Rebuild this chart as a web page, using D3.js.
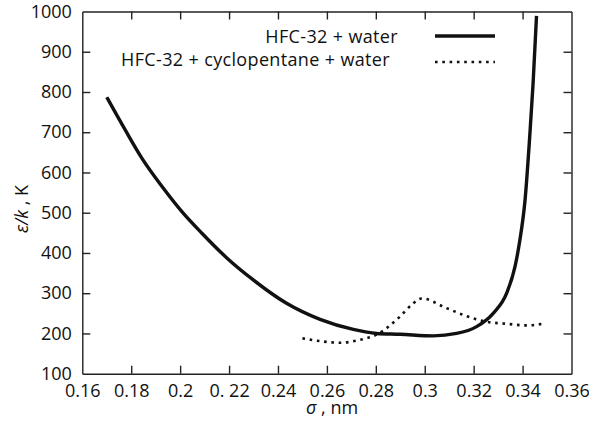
<!DOCTYPE html>
<html>
<head>
<meta charset="utf-8">
<script src="https://cdn.jsdelivr.net/npm/d3@7"></script>
<style>
  html, body { margin: 0; padding: 0; background: #fff; }
  svg { display: block; font-family: "Open Sans", sans-serif; }
</style>
</head>
<body>
<svg id="chart" width="589" height="429"></svg>
<script>
// ---- data ----
const xTicks = [0.16, 0.18, 0.20, 0.22, 0.24, 0.26, 0.28, 0.30, 0.32, 0.34, 0.36];
const xTickLabels = ["0.16", "0.18", "0.2", "0. 22", "0.24", "0.26", "0.28", "0.3", "0.32", "0.34", "0.36"];
const yTicks = [100, 200, 300, 400, 500, 600, 700, 800, 900, 1000];

const seriesNames = ["HFC-32 + water", "HFC-32 + cyclopentane + water"];

const sigmaWater = [0.170, 0.1776, 0.1844, 0.1926, 0.2008, 0.2089, 0.2192, 0.2299, 0.2435, 0.2572, 0.2708, 0.2803, 0.2899, 0.3035, 0.3130, 0.3212, 0.3280, 0.3335, 0.3369, 0.3389, 0.3410, 0.3430, 0.3443, 0.3457];
const epsWater   = [787, 705, 635, 565, 502, 449, 387, 333, 275, 235, 210, 200, 198, 194, 200, 217, 250, 300, 366, 432, 531, 697, 822, 989];

const sigmaCyclo = [0.250, 0.2572, 0.2653, 0.2735, 0.2803, 0.2899, 0.2953, 0.2987, 0.3089, 0.3171, 0.3253, 0.3335, 0.3416, 0.3491];
const epsCyclo   = [188, 181, 177, 184, 197, 242, 275, 287, 263, 243, 229, 224, 220, 225];

// ---- layout ----
const svg = d3.select("#chart");
const mLeft = 82.3, mRight = 571.5, mTop = 11.5, mBottom = 373.7;

const x = d3.scaleLinear().domain([0.16, 0.36]).range([mLeft, mRight]);
const y = d3.scaleLinear().domain([100, 1000]).range([mBottom, mTop]);

const axisColor = "#222";
const fontSize = 18;
const letterSp = "0.35px";

// frame axes with inward ticks
const gB = svg.append("g").attr("transform", `translate(0,${mBottom})`)
  .call(d3.axisBottom(x).tickValues(xTicks).tickSizeInner(-8).tickSizeOuter(0)
    .tickPadding(10.5).tickFormat((d, i) => xTickLabels[i]));
const gT = svg.append("g").attr("transform", `translate(0,${mTop})`)
  .call(d3.axisTop(x).tickValues(xTicks).tickSizeInner(-8).tickSizeOuter(0).tickFormat(""));
const gL = svg.append("g").attr("transform", `translate(${mLeft},0)`)
  .call(d3.axisLeft(y).tickValues(yTicks).tickSizeInner(-8).tickSizeOuter(0)
    .tickPadding(10.5).tickFormat(d3.format("d")));
const gR = svg.append("g").attr("transform", `translate(${mRight},0)`)
  .call(d3.axisRight(y).tickValues(yTicks).tickSizeInner(-8).tickSizeOuter(0).tickFormat(""));

[gB, gT, gL, gR].forEach(g => {
  g.select(".domain").attr("stroke", axisColor).attr("stroke-width", 1.4);
  g.selectAll(".tick line").attr("stroke", axisColor).attr("stroke-width", 1.4);
  g.selectAll(".tick text").attr("fill", "#111").style("font-size", fontSize + "px")
    .style("font-family", "'Open Sans', sans-serif");
});
gB.selectAll(".tick").filter(d => d === 0.16 || d === 0.36).select("line").remove();
gT.selectAll(".tick").filter(d => d === 0.16 || d === 0.36).select("line").remove();
gL.selectAll(".tick").filter(d => d === 100 || d === 1000).select("line").remove();
gR.selectAll(".tick").filter(d => d === 100 || d === 1000).select("line").remove();

// ---- lines ----
const line = d3.line().x(d => x(d[0])).y(d => y(d[1])).curve(d3.curveMonotoneX);

const dWater = sigmaWater.map((s, i) => [s, epsWater[i]]);
const dCyclo = sigmaCyclo.map((s, i) => [s, epsCyclo[i]]);

svg.append("path").datum(dWater).attr("d", line)
  .attr("fill", "none").attr("stroke", "#111").attr("stroke-width", 3.4);
svg.append("path").datum(dCyclo).attr("d", line)
  .attr("fill", "none").attr("stroke", "#111").attr("stroke-width", 2.6)
  .attr("stroke-dasharray", "2.6,4.7");

// ---- legend ----
const legendRows = [
  { name: seriesNames[0], tx: 398, ty: 43, ly: 36, dash: null, w: 3.4 },
  { name: seriesNames[1], tx: 390, ty: 66, ly: 62, dash: "2.6,4.7", w: 2.6 }
];
legendRows.forEach(r => {
  svg.append("text").attr("x", r.tx).attr("y", r.ty)
    .attr("text-anchor", "end").style("font-size", fontSize + "px")
    .style("letter-spacing", letterSp).attr("fill", "#111")
    .text(r.name);
  const l = svg.append("line").attr("x1", 435).attr("x2", 495).attr("y1", r.ly).attr("y2", r.ly)
    .attr("stroke", "#111").attr("stroke-width", r.w);
  if (r.dash) l.attr("stroke-dasharray", r.dash);
});

// ---- axis titles ----
const xt = svg.append("text").attr("x", 332).attr("y", 414).attr("text-anchor", "middle")
  .style("font-size", fontSize + "px").attr("fill", "#111");
xt.append("tspan").style("font-style", "italic").text("σ");
xt.append("tspan").text(" ,  nm");

const yt = svg.append("text").attr("transform", "translate(28,209) rotate(-90)")
  .attr("text-anchor", "middle").style("font-size", fontSize + "px").attr("fill", "#111");
yt.append("tspan").style("font-style", "italic").text("ε/k");
yt.append("tspan").text(" ,  K");
</script>
</body>
</html>
